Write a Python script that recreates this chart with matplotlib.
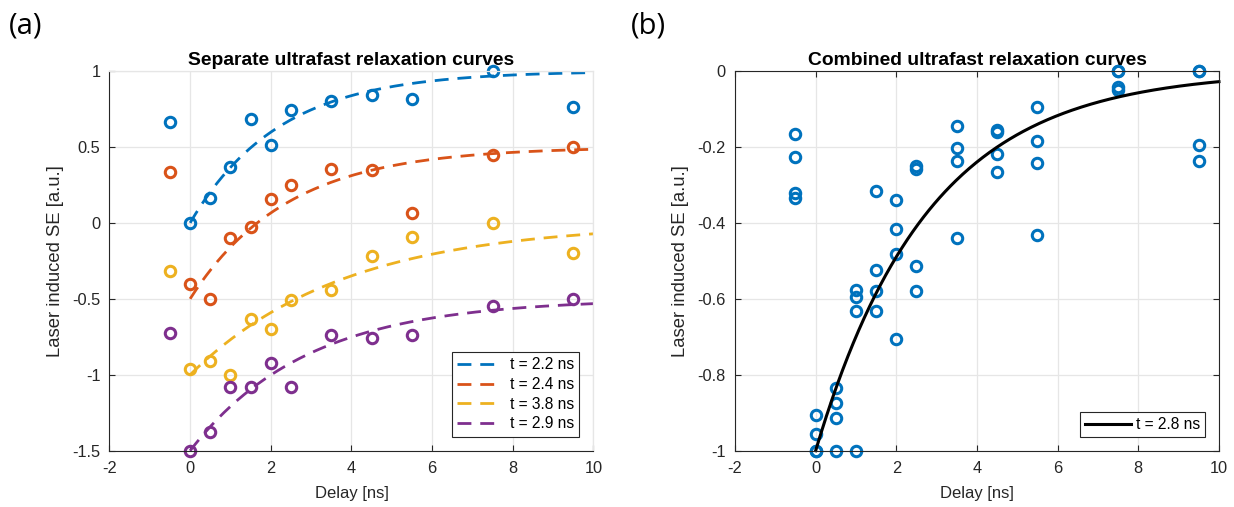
import numpy as np
import matplotlib
matplotlib.use("Agg")
import matplotlib.pyplot as plt

# ---------------- data ----------------
delays = [-0.5, 0, 0.5, 1, 1.5, 2, 2.5, 3.5, 4.5, 5.5, 7.5, 9.5]

se_22 = [0.665, 0.0, 0.165, 0.37, 0.685, 0.515, 0.745, 0.80, 0.84, 0.815, 1.0, 0.765]
se_24 = [0.335, -0.40, -0.50, -0.10, -0.025, 0.16, 0.25, 0.355, 0.345, 0.065, 0.45, 0.50]
se_38 = [-0.32, -0.96, -0.91, -1.0, -0.63, -0.70, -0.51, -0.44, -0.22, -0.095, 0.0, -0.20]
se_29 = [-0.725, -1.5, -1.375, -1.08, -1.08, -0.92, -1.08, -0.735, -0.76, -0.74, -0.545, -0.50]

sep_series = [se_22, se_24, se_38, se_29]
sep_taus = [2.2, 2.4, 3.8, 2.9]
sep_offsets = [0.0, -0.5, -1.0, -1.5]
sep_labels = ["t = 2.2 ns", "t = 2.4 ns", "t = 3.8 ns", "t = 2.9 ns"]

# combined (normalised) data: four values per delay
comb_a = [-0.335, -1.0, -0.835, -0.632, -0.317, -0.482, -0.258, -0.204, -0.162, -0.184, 0.0, -0.237]
comb_b = [-0.166, -0.905, -1.0, -1.0, -0.524, -0.339, -0.249, -0.145, -0.155, -0.432, -0.05, 0.0]
comb_c = [-0.322, -1.0, -0.915, -0.578, -0.632, -0.705, -0.513, -0.440, -0.219, -0.094, 0.0, -0.194]
comb_d = [-0.227, -0.957, -0.875, -0.596, -0.580, -0.417, -0.580, -0.237, -0.267, -0.243, -0.043, 0.0]
comb_tau = 2.8
comb_label = "t = 2.8 ns"

colors = ["#0072BD", "#D95319", "#EDB120", "#7E2F8E"]

# ---------------- figure ----------------
plt.rcParams['font.family'] = ['Liberation Sans', 'DejaVu Sans']
plt.rcParams['axes.unicode_minus'] = False
fig = plt.figure(figsize=(12.34, 5.07), dpi=100)
ax1 = fig.add_axes([0.0887, 0.111, 0.3922, 0.749])
ax2 = fig.add_axes([0.5956, 0.111, 0.3922, 0.749])

spine_c = "#262626"
grid_c = "#e6e6e6"

def style(ax, box):
    ax.set_xlim(-2, 10)
    ax.grid(True, color=grid_c, linewidth=0.9)
    ax.set_axisbelow(True)
    for s in ["left", "bottom"]:
        ax.spines[s].set_color(spine_c)
        ax.spines[s].set_linewidth(0.8)
    for s in ["top", "right"]:
        if box:
            ax.spines[s].set_color(spine_c)
            ax.spines[s].set_linewidth(0.8)
        else:
            ax.spines[s].set_color(grid_c)
            ax.spines[s].set_linewidth(0.9)
    ax.tick_params(direction="in", length=4, width=0.8, color=spine_c,
                   labelsize=11.8, labelcolor="#262626",
                   top=box, right=box)
    ax.tick_params(axis="x", pad=7.5)
    ax.tick_params(axis="y", pad=6.5)
    ax.set_xticks(np.arange(-2, 11, 2))
    ax.set_xlabel("Delay [ns]", fontsize=12, color="#262626", labelpad=7)
    ax.set_ylabel("Laser induced SE [a.u.]", fontsize=13.3, color="#262626", labelpad=6)

def tick_fmt(v, pos):
    return "%g" % v

mk = dict(marker="o", linestyle="none", markersize=7.5, markerfacecolor="none",
          markeredgewidth=2.2)

# Panel (a)
xfit = np.linspace(0, 10, 300)
for ys, c in zip(sep_series, colors):
    ax1.plot(delays, ys, color=c, markeredgecolor=c, **mk)
fit_handles = []
for tau, off, c, lab in zip(sep_taus, sep_offsets, colors, sep_labels):
    ln, = ax1.plot(xfit, off + (1 - np.exp(-xfit / tau)), color=c, linewidth=2.0,
                   dashes=(5, 3.2), label=lab)
    fit_handles.append(ln)
style(ax1, box=False)
ax1.set_ylim(-1.5, 1)
ax1.set_yticks([-1.5, -1, -0.5, 0, 0.5, 1])
ax1.yaxis.set_major_formatter(matplotlib.ticker.FuncFormatter(tick_fmt))
ax1.set_title("Separate ultrafast relaxation curves", fontsize=13.9,
              fontweight="bold", pad=4)
leg1 = ax1.legend(fit_handles, sep_labels, loc="lower right", fontsize=11.2, frameon=True,
                  fancybox=False, edgecolor="#262626", framealpha=1,
                  handlelength=2.6, borderaxespad=0.9, labelspacing=0.3,
                  borderpad=0.35)
leg1.get_frame().set_linewidth(0.8)

# Panel (b)
for ys in [comb_a, comb_b, comb_c, comb_d]:
    ax2.plot(delays, ys, color=colors[0], markeredgecolor=colors[0], **mk)
ax2.plot(xfit, -np.exp(-xfit / comb_tau), color="black", linewidth=2.2, label=comb_label)
style(ax2, box=True)
ax2.set_ylim(-1, 0)
ax2.set_yticks([-1, -0.8, -0.6, -0.4, -0.2, 0])
ax2.yaxis.set_major_formatter(matplotlib.ticker.FuncFormatter(tick_fmt))
ax2.set_title("Combined ultrafast relaxation curves", fontsize=13.9,
              fontweight="bold", pad=4)
leg2 = ax2.legend(loc="lower right", fontsize=11.2, frameon=True, fancybox=False,
                  edgecolor="#262626", framealpha=1, handlelength=3.0,
                  handletextpad=0.3, borderaxespad=0.9, borderpad=0.3)
leg2.get_frame().set_linewidth(0.8)

for a in (ax1, ax2):
    for line in a.get_lines():
        line.set_clip_on(False)

fig.text(0.007, 0.948, "(a)", fontsize=21, family=["Open Sans", "DejaVu Sans"], va="center")
fig.text(0.511, 0.948, "(b)", fontsize=21, family=["Open Sans", "DejaVu Sans"], va="center")

fig.savefig("out.png", dpi=100)
